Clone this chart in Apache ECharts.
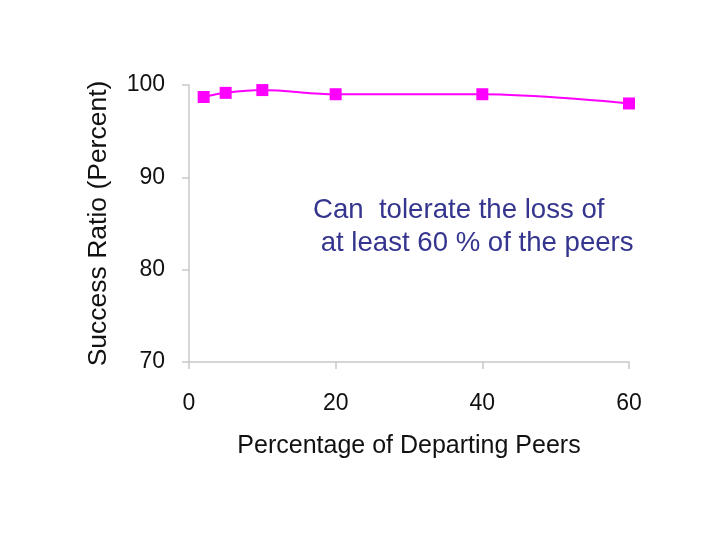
<!DOCTYPE html>
<html><head><meta charset="utf-8">
<script src="https://cdn.jsdelivr.net/npm/echarts@6/dist/echarts.min.js"></script>
<style>html,body{margin:0;padding:0;background:#fff}#c{width:720px;height:540px}</style>
</head><body><div id="c"></div>
<script>
const departingPct = [2, 5, 10, 20, 40, 60];
const successRatio = [98.7, 99.15, 99.45, 99.0, 99.0, 98.0];
const yTicks = [70, 80, 90, 100];
const xTicks = [0, 20, 40, 60];
const noteLines = ['Can  tolerate the loss of', ' at least 60 % of the peers'];

const chart = echarts.init(document.getElementById('c'));
const font = 'Liberation Sans, Arial, sans-serif';
chart.setOption({
  animation: false,
  grid: {left: 189, right: 91, top: 85, bottom: 178},
  xAxis: {
    type: 'value', min: xTicks[0], max: xTicks[xTicks.length-1], interval: 20,
    name: 'Percentage of Departing Peers', nameLocation: 'middle', nameGap: 72,
    nameTextStyle: {fontFamily: font, fontSize: 25, color: '#111'},
    axisLine: {show: true, lineStyle: {color: '#c8c8c8', width: 1.5}},
    axisTick: {show: true, length: 7, lineStyle: {color: '#c8c8c8', width: 1.5}},
    axisLabel: {fontFamily: font, fontSize: 23, color: '#111', margin: 30},
    splitLine: {show: false}
  },
  yAxis: {
    type: 'value', min: yTicks[0], max: yTicks[yTicks.length-1], interval: 10,
    name: 'Success Ratio (Percent)', nameLocation: 'middle', nameGap: 77, nameRotate: 90,
    nameTextStyle: {fontFamily: font, fontSize: 26.5, color: '#111'},
    axisLine: {show: true, lineStyle: {color: '#c8c8c8', width: 1.5}},
    axisTick: {show: true, length: 7, lineStyle: {color: '#c8c8c8', width: 1.5}},
    axisLabel: {fontFamily: font, fontSize: 23, color: '#111', margin: 24},
    splitLine: {show: false}
  },
  graphic: [{
    type: 'text', left: 313, top: 194,
    style: {text: noteLines.join('\n'), fontFamily: font, fontSize: 27.6, lineHeight: 33, fill: '#35358f'}
  }],
  series: [{
    type: 'line', smooth: 0.35,
    data: departingPct.map((x, i) => [x, successRatio[i]]),
    symbol: 'rect', symbolSize: 12,
    lineStyle: {color: '#ff00ff', width: 2},
    itemStyle: {color: '#ff00ff'}
  }]
});
</script></body></html>
